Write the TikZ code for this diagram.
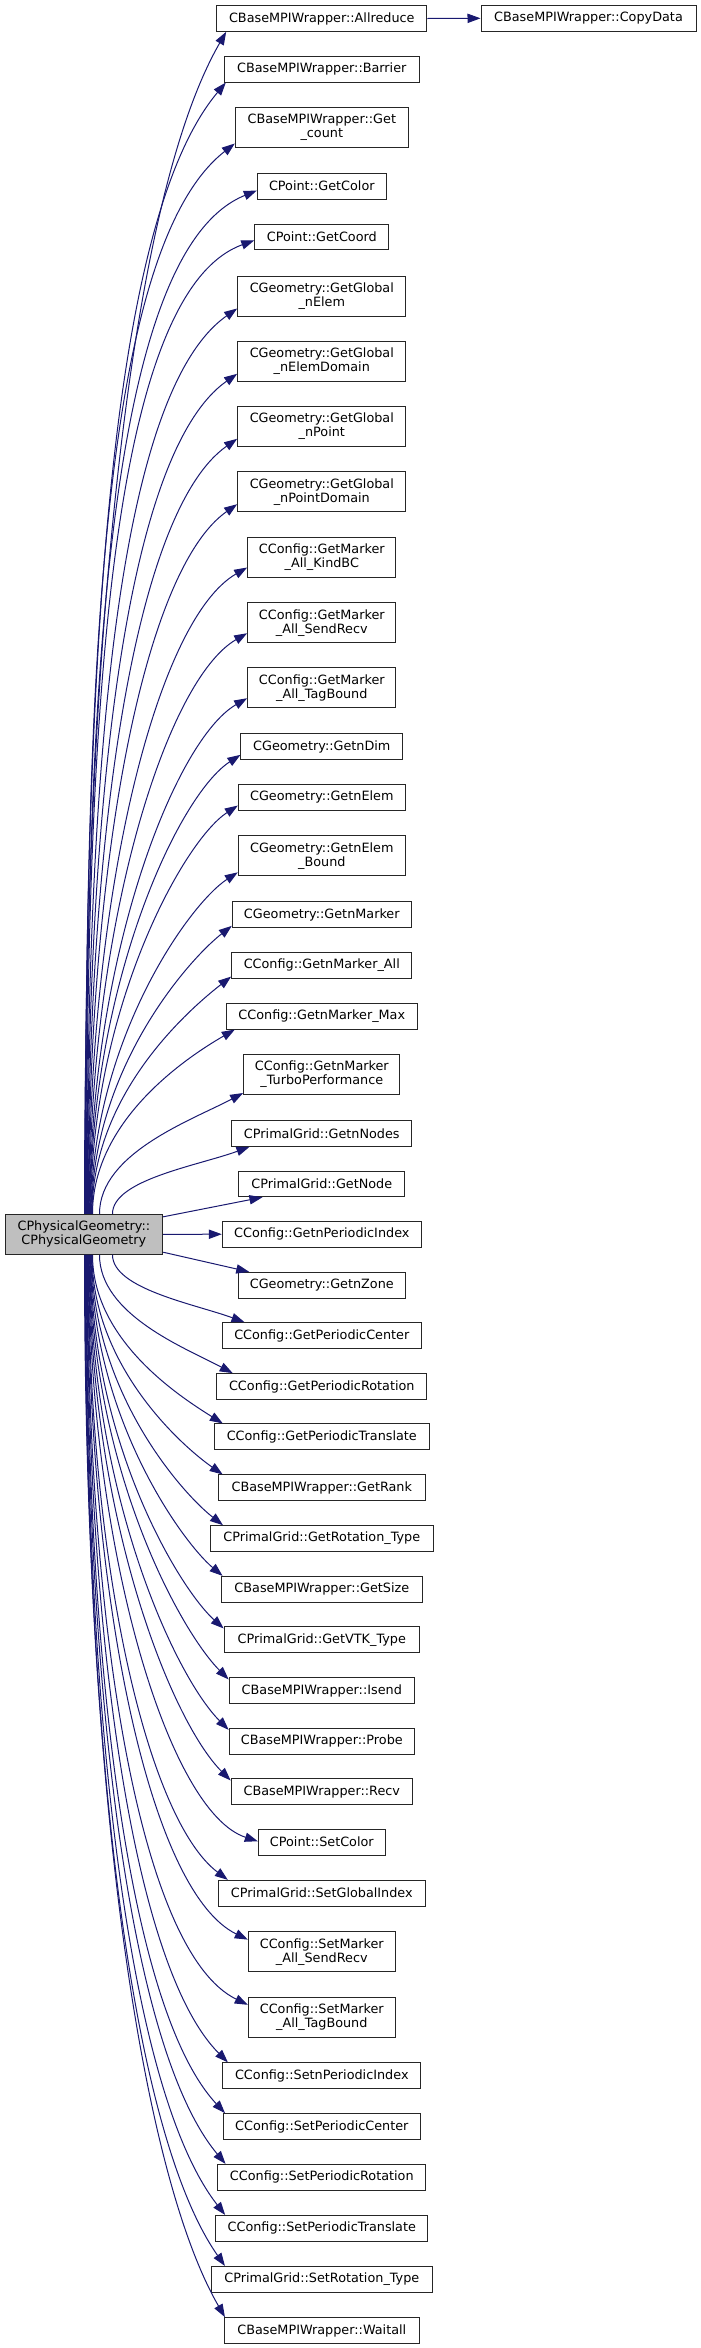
\documentclass[tikz,border=0pt]{standalone}
\usepackage{fontspec}
\setmainfont{DejaVu Sans}
\usetikzlibrary{arrows.meta,calc}
\definecolor{edgeblue}{HTML}{191970}
\tikzset{
  box/.style={draw=black!85, line width=1pt, fill=white, inner sep=0pt, align=center,
    font=\fontsize{12.8}{14}\selectfont, minimum height=25.7pt},
  box2/.style={box, minimum height=40pt},
  rootbox/.style={box2, fill=black!25},
  edge/.style={draw=edgeblue, line width=1pt, -{Triangle[length=13pt,width=9.3pt]}}
}
\newcommand{\upedge}[7]{%
  \draw[edge] ([xshift=#2pt]root.north west) .. controls ($([xshift=#2pt]root.north west)+(0pt,#6pt)$) and ($([xshift=#3pt,yshift=#4pt]#1.south west)+(#5+180:#7pt)$) .. ([xshift=#3pt,yshift=#4pt]#1.south west);}
\newcommand{\dnedge}[7]{%
  \draw[edge] ([xshift=#2pt]root.south west) .. controls ($([xshift=#2pt]root.south west)+(0pt,-#6pt)$) and ($([xshift=#3pt,yshift=-#4pt]#1.north west)+(#5+180:#7pt)$) .. ([xshift=#3pt,yshift=-#4pt]#1.north west);}
\begin{document}
\begin{tikzpicture}[x=1pt,y=-1pt]
\useasboundingbox (0,0) rectangle (701,2348);
\node[rootbox, minimum width=157.7pt] (root) at (83.85,1234.3) {CPhysicalGeometry::\\CPhysicalGeometry};
\node[box, minimum width=215pt] (cd) at (588.5,18.3) {CBaseMPIWrapper::CopyData};
\node[box, minimum width=210.3pt] (n1) at (321.8,18.5) {CBaseMPIWrapper::Allreduce};
\node[box, minimum width=195pt] (n2) at (321.8,69.2) {CBaseMPIWrapper::Barrier};
\node[box2, minimum width=173pt] (n3) at (321.8,127.7) {CBaseMPIWrapper::Get\\\_count};
\node[box, minimum width=129pt] (n4) at (321.8,186.2) {CPoint::GetColor};
\node[box, minimum width=134pt] (n5) at (321.8,237) {CPoint::GetCoord};
\node[box2, minimum width=168.3pt] (n6) at (321.8,296) {CGeometry::GetGlobal\\\_nElem};
\node[box2, minimum width=168.3pt] (n7) at (321.8,361.3) {CGeometry::GetGlobal\\\_nElemDomain};
\node[box2, minimum width=168.3pt] (n8) at (321.8,426.3) {CGeometry::GetGlobal\\\_nPoint};
\node[box2, minimum width=168.3pt] (n9) at (321.8,491.7) {CGeometry::GetGlobal\\\_nPointDomain};
\node[box2, minimum width=148.3pt] (n10) at (321.8,557) {CConfig::GetMarker\\\_All\_KindBC};
\node[box2, minimum width=148.3pt] (n11) at (321.8,622.7) {CConfig::GetMarker\\\_All\_SendRecv};
\node[box2, minimum width=148.3pt] (n12) at (321.8,687.7) {CConfig::GetMarker\\\_All\_TagBound};
\node[box, minimum width=161.7pt] (n13) at (321.8,746.5) {CGeometry::GetnDim};
\node[box, minimum width=167pt] (n14) at (321.8,797.2) {CGeometry::GetnElem};
\node[box2, minimum width=167pt] (n15) at (321.8,855.8) {CGeometry::GetnElem\\\_Bound};
\node[box, minimum width=179pt] (n16) at (321.8,914.5) {CGeometry::GetnMarker};
\node[box, minimum width=180.3pt] (n17) at (321.8,965.2) {CConfig::GetnMarker\_All};
\node[box, minimum width=191pt] (n18) at (321.8,1016.2) {CConfig::GetnMarker\_Max};
\node[box2, minimum width=156.3pt] (n19) at (321.8,1074.5) {CConfig::GetnMarker\\\_TurboPerformance};
\node[box, minimum width=180.3pt] (n20) at (321.8,1133.5) {CPrimalGrid::GetnNodes};
\node[box, minimum width=165.7pt] (n21) at (321.8,1183.9) {CPrimalGrid::GetNode};
\node[box, minimum width=199pt] (n22) at (321.8,1234.2) {CConfig::GetnPeriodicIndex};
\node[box, minimum width=166.7pt] (n23) at (321.8,1285.2) {CGeometry::GetnZone};
\node[box, minimum width=199pt] (n24) at (321.8,1335.5) {CConfig::GetPeriodicCenter};
\node[box, minimum width=210.3pt] (n25) at (321.8,1386.5) {CConfig::GetPeriodicRotation};
\node[box, minimum width=215pt] (n26) at (321.8,1436.8) {CConfig::GetPeriodicTranslate};
\node[box, minimum width=207.3pt] (n27) at (321.8,1487.8) {CBaseMPIWrapper::GetRank};
\node[box, minimum width=223.3pt] (n28) at (321.8,1538.5) {CPrimalGrid::GetRotation\_Type};
\node[box, minimum width=200.7pt] (n29) at (321.8,1589.2) {CBaseMPIWrapper::GetSize};
\node[box, minimum width=195.3pt] (n30) at (321.8,1639.8) {CPrimalGrid::GetVTK\_Type};
\node[box, minimum width=185.3pt] (n31) at (321.8,1690.8) {CBaseMPIWrapper::Isend};
\node[box, minimum width=185.3pt] (n32) at (321.8,1741.2) {CBaseMPIWrapper::Probe};
\node[box, minimum width=181.3pt] (n33) at (321.8,1791.8) {CBaseMPIWrapper::Recv};
\node[box, minimum width=127pt] (n34) at (321.8,1842.2) {CPoint::SetColor};
\node[box, minimum width=207pt] (n35) at (321.8,1893.2) {CPrimalGrid::SetGlobalIndex};
\node[box2, minimum width=147pt] (n36) at (321.8,1951.8) {CConfig::SetMarker\\\_All\_SendRecv};
\node[box2, minimum width=147pt] (n37) at (321.8,2017.3) {CConfig::SetMarker\\\_All\_TagBound};
\node[box, minimum width=198pt] (n38) at (321.8,2075.7) {CConfig::SetnPeriodicIndex};
\node[box, minimum width=197.3pt] (n39) at (321.8,2126.5) {CConfig::SetPeriodicCenter};
\node[box, minimum width=208.3pt] (n40) at (321.8,2177.2) {CConfig::SetPeriodicRotation};
\node[box, minimum width=211.7pt] (n41) at (321.8,2228.3) {CConfig::SetPeriodicTranslate};
\node[box, minimum width=220.7pt] (n42) at (321.8,2279.3) {CPrimalGrid::SetRotation\_Type};
\node[box, minimum width=194.7pt] (n43) at (321.8,2330.5) {CBaseMPIWrapper::Waitall};
% edges upward
\upedge{n1}{80}{10}{0}{60}{590}{190}
\upedge{n2}{80.5}{2}{0}{50}{566}{181}
\upedge{n3}{80.9}{0}{4.7}{38}{535}{171}
\upedge{n4}{81.4}{0}{9}{22}{512}{164}
\upedge{n5}{81.9}{0}{10}{20}{487}{156}
\upedge{n6}{82.4}{0}{8}{35}{453}{145}
\upedge{n7}{82.8}{0}{8}{35}{420}{135}
\upedge{n8}{83.3}{0}{8}{35}{388}{124}
\upedge{n9}{83.8}{0}{8}{35}{355}{114}
\upedge{n10}{84.2}{0}{10}{30}{323}{104}
\upedge{n11}{84.7}{0}{10}{30}{291}{93}
\upedge{n12}{85.2}{0}{10}{30}{258}{83}
\upedge{n13}{85.6}{0}{5}{33}{230}{74}
\upedge{n14}{86.1}{0}{5}{33}{205}{65}
\upedge{n15}{86.6}{0}{4}{33}{171}{59}
\upedge{n16}{87.1}{0}{2}{38}{144}{56}
\upedge{n17}{87.5}{0}{2}{38}{119}{56}
\upedge{n18}{88}{9}{0}{30}{93}{57}
\upedge{n19}{95}{0}{2}{28}{61}{57}
\upedge{n20}{108}{18.3}{0}{20}{34}{55}
% straight edges
\draw[edge] ([yshift=-3pt]root.north east) -- ([xshift=24pt]n21.south west);
\draw[edge] (root.east) -- (n22.west);
\draw[edge] ([yshift=2.6pt]root.south east) -- ([xshift=11.3pt]n23.north west);
\draw[edge] (n1.east) -- (cd.west);
% edges downward
\dnedge{n24}{108}{22.7}{0}{-20}{34}{53}
\dnedge{n25}{95}{16.6}{0}{-28}{60}{53}
\dnedge{n26}{88}{9}{0}{-32}{85}{52}
\dnedge{n27}{87.5}{5}{0}{-35}{110}{52}
\dnedge{n28}{87.1}{13.3}{0}{-38}{136}{53}
\dnedge{n29}{86.6}{1.6}{0}{-40}{161}{53}
\dnedge{n30}{86.1}{0}{2}{-42}{187}{60}
\dnedge{n31}{85.6}{0}{2}{-45}{213}{68}
\dnedge{n32}{85.2}{0}{2}{-45}{238}{76}
\dnedge{n33}{84.7}{0}{2}{-45}{263}{84}
\dnedge{n34}{84.2}{0}{12.4}{-18}{294}{94}
\dnedge{n35}{83.8}{10}{0}{-37}{313}{100}
\dnedge{n36}{83.3}{0}{8.3}{-26}{343}{110}
\dnedge{n37}{82.8}{0}{8}{-26}{375}{120}
\dnedge{n38}{82.4}{5.6}{0}{-45}{404}{129}
\dnedge{n39}{81.9}{2.4}{0}{-47}{430}{137}
\dnedge{n40}{81.4}{8.4}{0}{-50}{455}{146}
\dnedge{n41}{80.9}{9.7}{0}{-52}{480}{154}
\dnedge{n42}{80.5}{14}{0}{-55}{506}{162}
\dnedge{n43}{80}{1}{0}{-60}{532}{170}
\end{tikzpicture}
\end{document}
